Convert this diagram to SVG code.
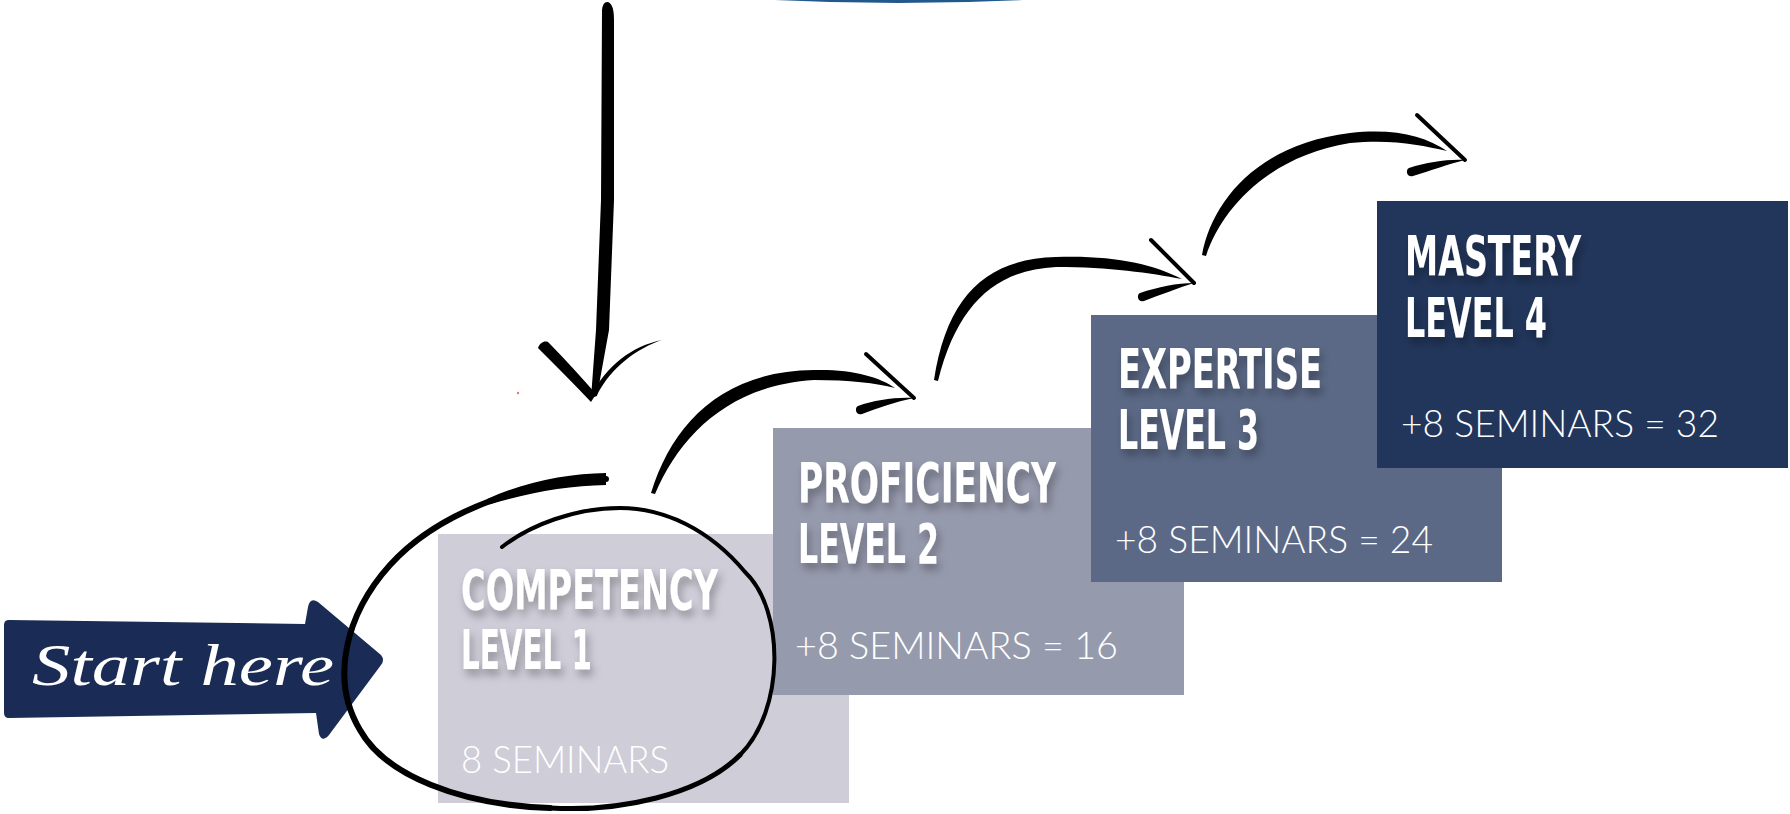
<svg xmlns="http://www.w3.org/2000/svg" width="1790" height="814" viewBox="0 0 1790 814">
<defs>
<style>
.title{font-family:"DejaVu Sans Condensed","DejaVu Sans","Liberation Sans",sans-serif;font-weight:bold;font-size:56px;fill:#ffffff;}
.sem{font-family:Lato,"Open Sans","Liberation Sans",sans-serif;font-weight:300;font-size:37px;fill:#ffffff;}
.ink{fill:#000000;}
.inkline{fill:none;stroke:#000000;stroke-linecap:round;stroke-linejoin:round;}
</style>
<filter id="tshadow" x="-10%" y="-30%" width="130%" height="180%">
<feDropShadow dx="3" dy="6" stdDeviation="4" flood-color="#000000" flood-opacity="0.3"/>
</filter>
</defs>
<rect width="1790" height="814" fill="#ffffff"/>
<path d="M775,0 Q898,6 1022,0 Z" fill="#21598c"/>
<circle cx="518" cy="393" r="1.2" fill="#f07070"/>

<g id="level1">
<rect x="438" y="534" width="411" height="269" fill="#cecdd8"/>
<g filter="url(#tshadow)">
<text class="title" x="461" y="609" textLength="257" lengthAdjust="spacingAndGlyphs">COMPETENCY</text>
<text class="title" x="461" y="669" textLength="131" lengthAdjust="spacingAndGlyphs">LEVEL 1</text>
</g>
<text class="sem" x="461" y="773" textLength="208" lengthAdjust="spacingAndGlyphs">8 SEMINARS</text>
</g>

<g id="level2">
<rect x="773" y="428" width="411" height="267" fill="#969aad"/>
<g filter="url(#tshadow)">
<text class="title" x="798" y="502" textLength="258" lengthAdjust="spacingAndGlyphs">PROFICIENCY</text>
<text class="title" x="798" y="563" textLength="141" lengthAdjust="spacingAndGlyphs">LEVEL 2</text>
</g>
<text class="sem" x="795" y="659" textLength="323" lengthAdjust="spacingAndGlyphs">+8 SEMINARS = 16</text>
</g>

<g id="level3">
<rect x="1091" y="315" width="411" height="267" fill="#5b6986"/>
<g filter="url(#tshadow)">
<text class="title" x="1118" y="388" textLength="204" lengthAdjust="spacingAndGlyphs">EXPERTISE</text>
<text class="title" x="1118" y="449" textLength="141" lengthAdjust="spacingAndGlyphs">LEVEL 3</text>
</g>
<text class="sem" x="1115" y="553" textLength="318" lengthAdjust="spacingAndGlyphs">+8 SEMINARS = 24</text>
</g>

<g id="level4">
<rect x="1377" y="201" width="411" height="267" fill="#22365b"/>
<g filter="url(#tshadow)">
<text class="title" x="1405" y="275" textLength="176" lengthAdjust="spacingAndGlyphs">MASTERY</text>
<text class="title" x="1405" y="337" textLength="142" lengthAdjust="spacingAndGlyphs">LEVEL 4</text>
</g>
<text class="sem" x="1401" y="437" textLength="318" lengthAdjust="spacingAndGlyphs">+8 SEMINARS = 32</text>
</g>

<g id="start-here">
<path d="M9,620 L305,624 L308,607 Q310,597 318,602 L381,655 Q385,660 381,665 L329,735 Q322,743 319,734 L316,713 L9,718 Q4,718 4,713 L4,625 Q4,620 9,620 Z" fill="#1a2c55"/>
<text x="32" y="685" textLength="302" lengthAdjust="spacingAndGlyphs" font-family="Liberation Serif, DejaVu Serif, serif" font-style="italic" font-size="60" fill="#ffffff">Start here</text>
</g>

<g id="connectors">
<!-- vertical arrow -->
<path class="ink" d="M602,10 Q603,1 608,2 Q614,4 614,20 L614,200 L609,330 L597,396 L591,398 L596,330 L601,200 Z"/>
<path class="ink" d="M538,348 C540,342 546,340 549,343 C566,360 582,378 596,394 L591,402 C574,384 556,366 538,348 Z"/>
<path class="ink" d="M662,340 C638,348 612,366 597,395 L591,396 C606,366 632,346 662,340 Z"/>

<!-- circle around level 1 -->
<path class="inkline" stroke-width="6" d="M606,479 C530,480 440,510 390,565 C345,615 330,680 360,730 C385,775 460,805 550,808"/>
<path class="inkline" stroke-width="5" d="M550,808 C620,812 700,795 740,755"/>
<path class="inkline" stroke-width="4" d="M740,755 C785,710 785,610 745,572 C710,530 665,508 620,508 C575,508 530,525 502,547"/>
<path class="ink" d="M606,473 C568,473.5 526,481.5 487.2,498.9 L489.3,504.6 C527,493 568,485.5 606,485 Z"/>

<!-- arrow 1 -->
<path class="ink" d="M651,493 C672,425 721,371 814,370 C852,369 880,377 895,388 C876,383 850,380 814,380 C730,385 680,435 655,494 Z"/>
<path class="inkline" stroke-width="4" d="M866,354 L914,398"/>
<path class="ink" d="M858,406 C875,400 895,397 914,398 C895,402 878,408 862,414 C856,416 854,408 858,406 Z"/>

<!-- arrow 2 -->
<path class="ink" d="M934,380 C947,296 986,259 1056,257 C1113,255 1153,264 1182,279 C1150,273 1110,267 1056,267 C995,270 957,305 938,381 Z"/>
<path class="inkline" stroke-width="4" d="M1151,240 L1194,283"/>
<path class="ink" d="M1140,293 C1158,287 1177,283 1194,283 C1178,288 1160,295 1144,301 C1138,303 1136,295 1140,293 Z"/>

<!-- arrow 3 -->
<path class="ink" d="M1202,255 C1212,201 1258,144 1350,133 C1394,128 1425,136 1447,151 C1421,145 1392,139 1350,143 C1268,156 1221,210 1206,256 Z"/>
<path class="inkline" stroke-width="4" d="M1417,115 L1465,160"/>
<path class="ink" d="M1409,168 C1428,162 1448,159 1465,160 C1448,164 1430,171 1413,176 C1407,178 1405,170 1409,168 Z"/>
</g>
</svg>
